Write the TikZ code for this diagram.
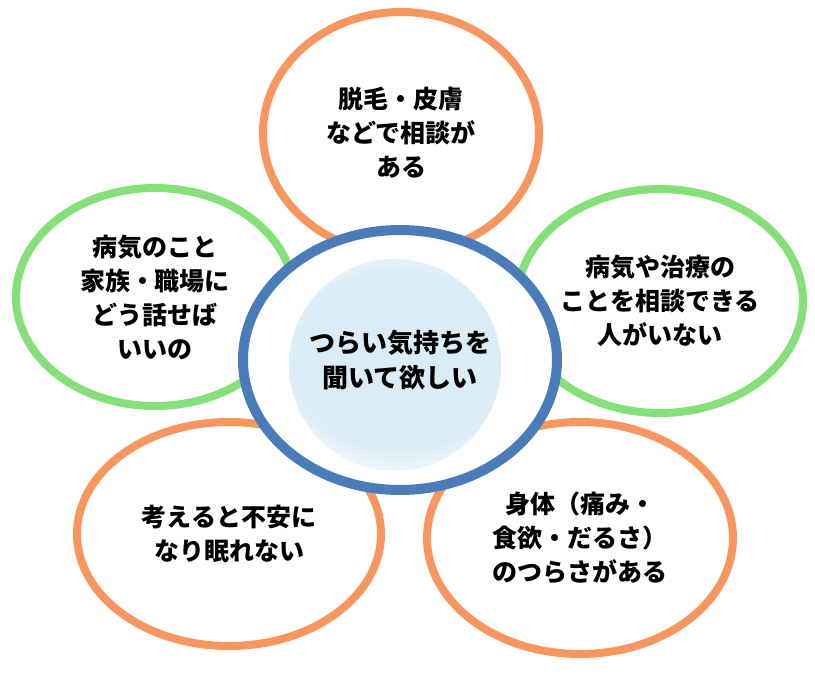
\documentclass[tikz,border=0pt]{standalone}
\usepackage{fontspec}
\newfontfamily\jpfont{Noto Sans CJK JP}
\usetikzlibrary{shapes.geometric}

\definecolor{worryorange}{HTML}{F8965F}
\definecolor{worrygreen}{HTML}{86E07A}
\definecolor{hubblue}{HTML}{4A7CBA}
\definecolor{blobblue}{RGB}{218,236,245}
\pgfdeclareradialshading{blob}{\pgfpoint{0bp}{0bp}}{color(0bp)=(blobblue); color(17bp)=(blobblue); color(25bp)=(white); color(50bp)=(white)}

\begin{document}
\begin{tikzpicture}[x=1pt, y=-1pt,
        worry/.style={ellipse, draw, fill=white, line width=8pt, inner sep=0pt, align=center,
            font={\jpfont\bfseries\fontsize{25}{34}\selectfont}},
        hub/.style={ellipse, draw=hubblue, fill=white, line width=10pt, inner sep=0pt, align=center,
            minimum width=314pt, minimum height=260pt,
            font={\jpfont\bfseries\fontsize{26}{35}\selectfont}}]
        \useasboundingbox (0,0) rectangle (815,675);

        % outer worries
        \node[worry, draw=worryorange, minimum width=276pt, minimum height=242pt] (hair) at (401,133)
            {脱毛・皮膚\\などで相談が\\ある};
        \node[worry, draw=worrygreen, minimum width=278pt, minimum height=218pt] (family) at (155,297)
            {病気のこと\\家族・職場に\\どう話せば\\いいの};
        \node[worry, draw=worrygreen, minimum width=286pt, minimum height=224pt] (nobody) at (660,301)
            {病気や治療の\\ことを相談できる\\人がいない};
        \node[worry, draw=worryorange, minimum width=304pt, minimum height=224pt] (sleep) at (229,534)
            {考えると不安に\\なり眠れない};
        \node[worry, draw=worryorange, minimum width=306pt, minimum height=232pt] (body) at (580,538)
            {身体（痛み・\\食欲・だるさ）\\のつらさがある};

        % centre
        \node[hub, path picture={
                \shade[shading=blob] ([shift={(-5,5)}]path picture bounding box.center) circle (106pt);
            }] (listen) at (400,360) {つらい気持ちを\\聞いて欲しい};
\end{tikzpicture}
\end{document}
